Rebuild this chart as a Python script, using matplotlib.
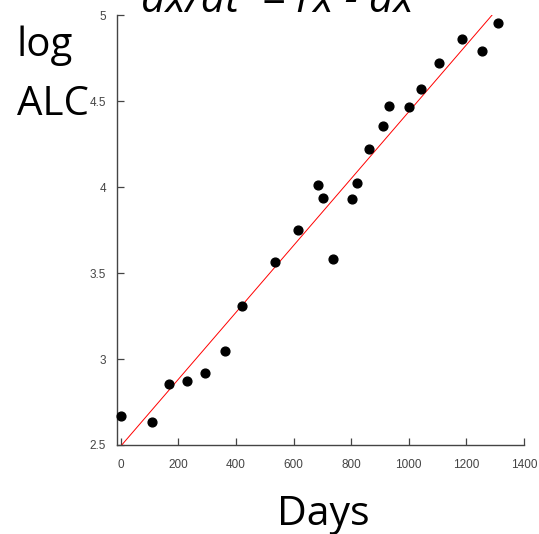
import numpy as np
import matplotlib
matplotlib.use('Agg')
import matplotlib.pyplot as plt

# log ALC vs days
days = [0, 108, 168, 230, 293, 363, 422, 536, 614, 686, 701, 737, 804, 819,
        863, 910, 930, 1000, 1042, 1106, 1185, 1255, 1310]
logALC = [2.67, 2.634, 2.856, 2.872, 2.919, 3.045, 3.308, 3.566, 3.752, 4.01,
          3.94, 3.58, 3.93, 4.023, 4.225, 4.356, 4.473, 4.465, 4.572, 4.725,
          4.862, 4.792, 4.958]

# fitted line (intercept, slope)
fitA = 2.493
fitB = 0.001946

xticks = [0, 200, 400, 600, 800, 1000, 1200, 1400]
yticks = [2.5, 3, 3.5, 4, 4.5, 5]
ytickLabels = ['2.5', '3', '3.5', '4', '4.5', '5']

bigFont = 'Open Sans'
tickFont = 'Liberation Sans'

fig = plt.figure(figsize=(5.39, 5.34), dpi=100)
ax = fig.add_axes([0.2165, 0.1667, 0.9722 - 0.2165, 0.9713 - 0.1667])

xfit = np.array([-14, 1400])
ax.plot(xfit, fitA + fitB*xfit, color='red', linewidth=0.7, zorder=2)
ax.scatter(days, logALC, s=40, color='black', zorder=3, clip_on=False)

ax.set_xlim(-14, 1400)
ax.set_ylim(2.5, 5)
ax.set_xticks(xticks)
ax.set_yticks(yticks)
ax.set_yticklabels(ytickLabels)

for side in ['top', 'right']:
    ax.spines[side].set_visible(False)
for side in ['left', 'bottom']:
    ax.spines[side].set_color('#444444')
    ax.spines[side].set_linewidth(1.0)

ax.tick_params(direction='in', length=5, width=0.9, color='#444444',
               labelsize=8.5, labelcolor='#444444')
ax.tick_params(axis='x', pad=10)
ax.tick_params(axis='y', pad=7.5)
for lbl in ax.get_xticklabels() + ax.get_yticklabels():
    lbl.set_fontfamily(tickFont)

# big labels written like slide text
fig.text(141/539, 1 - 11.7/534, 'dx/dt  = rx - dx', fontsize=30.5, style='italic',
         family=bigFont, ha='left', va='baseline')
fig.text(17/539, 1 - 56/534, 'log', fontsize=29, family=bigFont,
         ha='left', va='baseline')
fig.text(17/539, 1 - 115/534, 'ALC', fontsize=29, family=bigFont,
         ha='left', va='baseline', zorder=0)
fig.text(323/539, 1 - 525/534, 'Days', fontsize=29.5, family=bigFont,
         ha='center', va='baseline')

fig.savefig('out.png', dpi=100)
